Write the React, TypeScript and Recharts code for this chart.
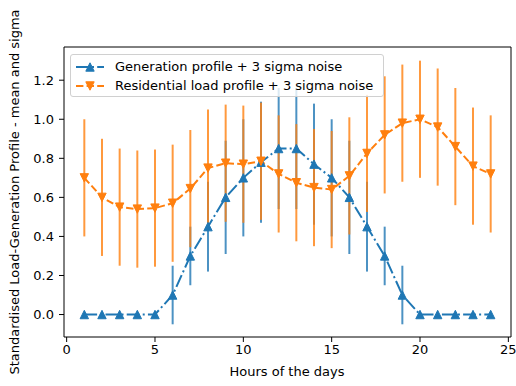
import React from "react";
import {
  ComposedChart,
  Line,
  XAxis,
  YAxis,
  ErrorBar,
  ReferenceArea,
} from "recharts";

// values
const hours = [1, 2, 3, 4, 5, 6, 7, 8, 9, 10, 11, 12, 13, 14, 15, 16, 17, 18, 19, 20, 21, 22, 23, 24];
const genMean = [0, 0, 0, 0, 0, 0.1, 0.3, 0.45, 0.6, 0.7, 0.78, 0.85, 0.85, 0.77, 0.7, 0.6, 0.45, 0.3, 0.1, 0, 0, 0, 0, 0];
const genSigma = [0, 0, 0, 0, 0, 0.15, 0.15, 0.23, 0.29, 0.3, 0.31, 0.31, 0.31, 0.31, 0.3, 0.29, 0.23, 0.15, 0.15, 0, 0, 0, 0, 0];
const loadMean = [0.7, 0.6, 0.55, 0.54, 0.545, 0.57, 0.645, 0.75, 0.775, 0.77, 0.785, 0.72, 0.675, 0.65, 0.64, 0.71, 0.825, 0.92, 0.98, 1.0, 0.96, 0.86, 0.76, 0.72];
const loadSigma = [0.3, 0.3, 0.3, 0.3, 0.3, 0.3, 0.3, 0.3, 0.3, 0.3, 0.3, 0.3, 0.3, 0.3, 0.3, 0.3, 0.3, 0.3, 0.3, 0.3, 0.3, 0.3, 0.3, 0.3];
const xTicks = [0, 5, 10, 15, 20, 25];
const yTicks = [0, 0.2, 0.4, 0.6, 0.8, 1.0, 1.2];

const data = hours.map((h, i) => ({
  hour: h,
  gen: genMean[i],
  genErr: genSigma[i],
  load: loadMean[i],
  loadErr: loadSigma[i],
}));

const BLUE = "#1f77b4";
const ORANGE = "#ff7f0e";
const FONT = "'DejaVu Sans', sans-serif";
const DASH_DOT = "12.8 3.2 2 3.2";
const DASHED = "7.4 3.2";

const triUp = (color: string) => (props: any) => {
  const { cx, cy, index } = props;
  return (
    <path
      key={"u" + index}
      d={`M${cx},${cy - 4.2} L${cx - 4.2},${cy + 4.2} L${cx + 4.2},${cy + 4.2} Z`}
      fill={color}
      stroke={color}
      strokeWidth={1}
    />
  );
};

const triDown = (color: string) => (props: any) => {
  const { cx, cy, index } = props;
  return (
    <path
      key={"d" + index}
      d={`M${cx},${cy + 4.2} L${cx - 4.2},${cy - 4.2} L${cx + 4.2},${cy - 4.2} Z`}
      fill={color}
      stroke={color}
      strokeWidth={1}
    />
  );
};

const LegendRow = ({ color, dash, up, label }: any) => (
  <div style={{ display: "flex", alignItems: "center", height: 19 }}>
    <svg width={30} height={12} style={{ marginRight: 10 }}>
      <line x1={1} y1={6} x2={29} y2={6} stroke={color} strokeWidth={2} strokeDasharray={dash} />
      {up ? (
        <path d="M15,1.8 L10.8,10.2 L19.2,10.2 Z" fill={color} stroke={color} />
      ) : (
        <path d="M15,10.2 L10.8,1.8 L19.2,1.8 Z" fill={color} stroke={color} />
      )}
    </svg>
    <span>{label}</span>
  </div>
);

export default function App() {
  return (
    <div
      style={{
        position: "absolute",
        left: 0,
        top: 0,
        width: 516,
        height: 386,
        background: "#fff",
        fontFamily: FONT,
      }}
    >
      <ComposedChart
        width={516}
        height={386}
        data={data}
        margin={{ top: 47, right: 5, left: 20, bottom: 19 }}
      >
        <XAxis
          dataKey="hour"
          type="number"
          domain={[-0.15, 25.15]}
          ticks={xTicks}
          allowDataOverflow
          height={30}
          tickSize={5}
          tickMargin={3}
          axisLine={false}
          tickLine={{ stroke: "#000", strokeWidth: 1 }}
          tick={{ fill: "#000", fontSize: 13, fontFamily: FONT }}
        />
        <YAxis
          type="number"
          domain={[-0.115, 1.37]}
          ticks={yTicks}
          allowDataOverflow
          width={44}
          tickSize={5}
          tickMargin={5}
          axisLine={false}
          tickLine={{ stroke: "#000", strokeWidth: 1 }}
          tick={{ fill: "#000", fontSize: 13, fontFamily: FONT }}
          tickFormatter={(v: number) => v.toFixed(1)}
        />
        <ReferenceArea
          x1={-0.15}
          x2={25.15}
          y1={-0.115}
          y2={1.37}
          fill="none"
          stroke="#000"
          strokeWidth={1}
          ifOverflow="visible"
        />
        <Line
          dataKey="gen"
          stroke={BLUE}
          strokeWidth={2}
          strokeDasharray={DASH_DOT}
          dot={triUp(BLUE)}
          activeDot={false}
          isAnimationActive={false}
          type="linear"
        >
          <ErrorBar dataKey="genErr" width={0} stroke={BLUE} strokeWidth={2} strokeOpacity={0.8} direction="y" />
        </Line>
        <Line
          dataKey="load"
          stroke={ORANGE}
          strokeWidth={2}
          strokeDasharray={DASHED}
          dot={triDown(ORANGE)}
          activeDot={false}
          isAnimationActive={false}
          type="linear"
        >
          <ErrorBar dataKey="loadErr" width={0} stroke={ORANGE} strokeWidth={2} strokeOpacity={0.8} direction="y" />
        </Line>
      </ComposedChart>

      {/* legend */}
      <div
        style={{
          position: "absolute",
          left: 70,
          top: 54,
          width: 314,
          height: 43,
          border: "1px solid #d0d0d0",
          borderRadius: 3,
          background: "rgba(255,255,255,0.8)",
          fontSize: 13,
          color: "#000",
          padding: "2px 0 0 4px",
          boxSizing: "border-box",
          lineHeight: "15px",
        }}
      >
        <LegendRow color={BLUE} dash={DASH_DOT} up label="Generation profile + 3 sigma noise" />
        <LegendRow color={ORANGE} dash={DASHED} up={false} label="Residential load profile + 3 sigma noise" />
      </div>

      <div
        style={{
          position: "absolute",
          left: 287,
          top: 371,
          transform: "translate(-50%, -50%)",
          fontSize: 13,
          whiteSpace: "nowrap",
          color: "#000",
        }}
      >
        Hours of the days
      </div>
      <div
        style={{
          position: "absolute",
          left: 14,
          top: 192,
          transform: "translate(-50%, -50%) rotate(-90deg)",
          fontSize: 13,
          whiteSpace: "nowrap",
          color: "#000",
        }}
      >
        Standardised Load-Generation Profile - mean and sigma
      </div>
    </div>
  );
}
